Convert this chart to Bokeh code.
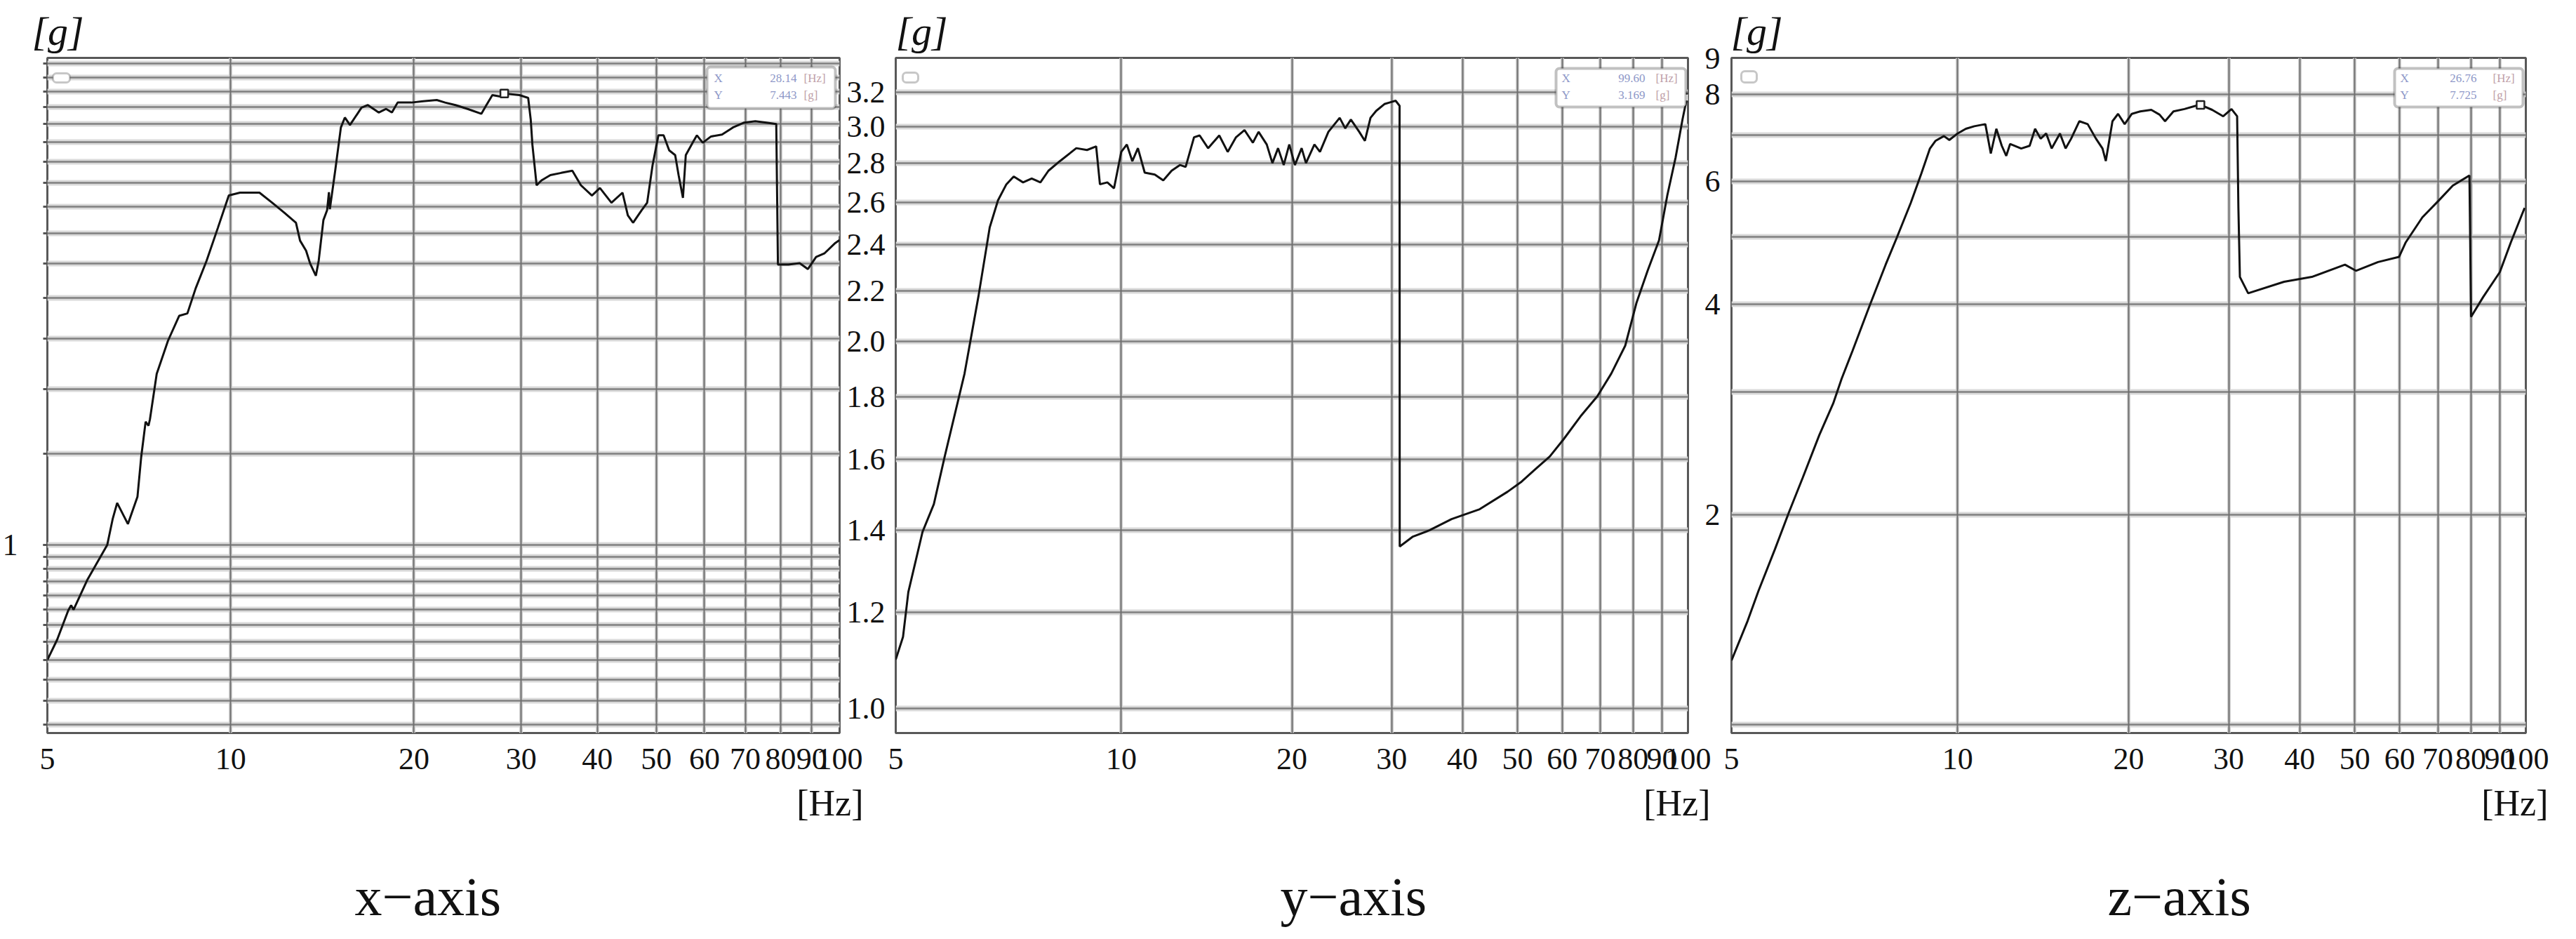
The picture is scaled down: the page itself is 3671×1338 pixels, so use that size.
from bokeh.plotting import figure
from bokeh.layouts import row
from bokeh.models import (FixedTicker, Range1d, LogAxis, LogScale, Grid, Label, Title,
                          BoxAnnotation, ColumnDataSource, PrintfTickFormatter)
from bokeh.embed import file_html
from bokeh.resources import INLINE

FONT = "Liberation Serif"
NB = "\u00a0"

# ---------------- data ----------------
x_freq_hz = [5.0, 5.19, 5.41, 5.47, 5.52, 5.82, 6.27, 6.40, 6.51, 6.78, 7.03, 7.13, 7.25, 7.33, 7.37,
             7.56, 7.89, 8.23, 8.49, 8.76, 9.13, 9.53, 9.93, 10.36, 10.8, 11.15, 11.7, 12.25, 12.8, 13.0,
             13.3, 13.5, 13.8, 13.95, 14.2, 14.4, 14.5, 14.55, 14.85, 15.17, 15.4, 15.7, 16.4, 16.8, 17.5,
             18.0, 18.4, 18.8, 19.8, 20.7, 21.8, 22.5, 23.4, 24.5, 25.8, 26.3, 26.9, 27.8, 28.14, 29.8,
             30.8, 31.1, 31.3, 31.8, 32.4, 33.5, 34.9, 36.4, 37.6, 39.2, 40.4, 42.2, 44.0, 44.9, 45.8,
             47.3, 48.3, 49.3, 50.4, 51.4, 52.5, 53.7, 54.4, 55.3, 55.9, 57.5, 58.3, 59.6, 61.5, 64.1,
             66.8, 69.7, 72.7, 75.8, 78.7, 79.2, 82.4, 86.0, 88.7, 91.5, 94.5, 98.4, 100.0]
x_accel_g = [0.60, 0.657, 0.747, 0.765, 0.75, 0.858, 1.0, 1.122, 1.206, 1.098, 1.24, 1.48, 1.73, 1.70, 1.75,
             2.14, 2.48, 2.77, 2.80, 3.13, 3.54, 4.10, 4.73, 4.79, 4.79, 4.79, 4.58, 4.38, 4.19, 3.87,
             3.70, 3.50, 3.31, 3.54, 4.24, 4.43, 4.80, 4.45, 5.29, 6.40, 6.69, 6.47, 6.99, 7.07, 6.84,
             6.95, 6.84, 7.15, 7.15, 7.19, 7.23, 7.15, 7.07, 6.95, 6.80, 7.07, 7.39, 7.34, 7.443, 7.39,
             7.30, 6.63, 5.92, 4.95, 5.06, 5.18, 5.23, 5.28, 4.95, 4.73, 4.89, 4.58, 4.79, 4.33, 4.19,
             4.43, 4.58, 5.41, 6.18, 6.18, 5.78, 5.66, 5.18, 4.68, 5.66, 6.01, 6.18, 5.98, 6.15, 6.20,
             6.40, 6.54, 6.58, 6.54, 6.50, 3.48, 3.48, 3.50, 3.41, 3.60, 3.66, 3.83, 3.88]

y_freq_hz = [4.0, 4.12, 4.21, 4.46, 4.67, 4.88, 5.29, 5.60, 5.86, 6.06, 6.27, 6.46, 6.71, 6.95, 7.2,
             7.44, 7.79, 8.33, 8.7, 9.03, 9.17, 9.45, 9.71, 10.0, 10.23, 10.46, 10.7, 11.0, 11.46, 11.86,
             12.27, 12.7, 12.99, 13.44, 13.75, 14.23, 14.89, 15.41, 15.94, 16.5, 17.07, 17.47, 18.06,
             18.48, 18.91, 19.35, 19.79, 20.25, 20.81, 21.18, 21.92, 22.42, 23.2, 24.29, 24.84, 25.42,
             26.3, 26.91, 27.53, 28.17, 29.13, 29.8, 30.49, 30.98, 31.0, 32.65, 34.97, 38.28, 42.9,
             48.06, 50.88, 53.86, 57.01, 60.35, 64.62, 69.18, 73.22, 77.5, 81.1, 84.9, 88.9, 91.95,
             95.1, 97.8, 99.6, 100.0]
y_accel_g = [1.097, 1.145, 1.246, 1.396, 1.471, 1.609, 1.882, 2.18, 2.48, 2.61, 2.69, 2.73, 2.70, 2.72, 2.70,
             2.76, 2.81, 2.88, 2.87, 2.89, 2.69, 2.70, 2.67, 2.86, 2.90, 2.81, 2.88, 2.75, 2.74, 2.71,
             2.76, 2.79, 2.78, 2.94, 2.95, 2.88, 2.95, 2.86, 2.94, 2.98, 2.91, 2.97, 2.90,
             2.80, 2.88, 2.79, 2.90, 2.79, 2.88, 2.80, 2.90, 2.86, 2.97, 3.05, 2.99, 3.04,
             2.97, 2.92, 3.05, 3.09, 3.13, 3.14, 3.15, 3.12, 1.358, 1.383, 1.40, 1.43, 1.457,
             1.506, 1.535, 1.572, 1.609, 1.663, 1.736, 1.803, 1.882, 1.984, 2.15, 2.286, 2.42, 2.635,
             2.83, 3.04, 3.169, 3.18]

z_freq_hz = [4.0, 4.27, 4.46, 4.77, 5.05, 5.34, 5.71, 6.04, 6.25, 6.53, 6.99, 7.47, 7.82, 8.27, 8.64,
             8.94, 9.14, 9.46, 9.67, 10.0, 10.34, 10.7, 11.19, 11.44, 11.7, 11.96, 12.18, 12.37, 12.94,
             13.39, 13.69, 14.0, 14.32, 14.64, 15.14, 15.49, 15.84, 16.38, 16.94, 17.52, 17.99, 18.23,
             18.73, 19.16, 19.68, 20.26, 20.96, 21.92, 22.67, 23.18, 23.98, 25.07, 26.51, 26.76, 28.05,
             29.34, 30.34, 31.04, 31.2, 31.39, 32.46, 37.54, 42.01, 48.05, 50.24, 54.95, 59.84, 61.48,
             65.75, 70.33, 74.37, 79.57, 80.1, 84.14, 90.0, 94.12, 99.5]
z_accel_g = [1.236, 1.408, 1.553, 1.784, 2.016, 2.26, 2.60, 2.885, 3.13, 3.43, 3.97, 4.56, 4.99, 5.59, 6.17,
             6.69, 6.86, 6.97, 6.88, 7.03, 7.14, 7.20, 7.25, 6.58, 7.14, 6.75, 6.53, 6.79, 6.69,
             6.75, 7.14, 6.91, 7.03, 6.69, 7.03, 6.69, 6.91, 7.32, 7.25, 6.91, 6.69, 6.42,
             7.32, 7.50, 7.25, 7.50, 7.56, 7.60, 7.48, 7.32, 7.56, 7.62, 7.72, 7.725, 7.60,
             7.44, 7.62, 7.44, 5.50, 4.38, 4.15, 4.31, 4.38, 4.56, 4.47, 4.60, 4.68, 4.91,
             5.33, 5.64, 5.92, 6.12, 3.84, 4.10, 4.45, 4.91, 5.50]

# cursor read-outs (X [Hz], Y [g])
x_cursor = (28.14, 7.443)
y_cursor = (99.60, 3.169)
z_cursor = (26.76, 7.725)
x_cursor_text = ("28.14", "7.443")
y_cursor_text = ("99.60", "3.169")
z_cursor_text = ("26.76", "7.725")

# axes
freq_grid = [10, 20, 30, 40, 50, 60, 70, 80, 90]
freq_labels = ["10", "20", "30", "40", "50", "60", "70", "80", "90"]
x_g_grid = [0.45, 0.5, 0.55, 0.6, 0.65, 0.7, 0.75, 0.8, 0.85, 0.9, 0.95, 1.0,
            1.5, 2.0, 2.5, 3.0, 3.5, 4.0, 4.5, 5.0, 5.5, 6.0, 6.5, 7.0, 7.5, 8.0, 8.5]
x_g_ticks = [1]
y_g_grid = [1.0, 1.2, 1.4, 1.6, 1.8, 2.0, 2.2, 2.4, 2.6, 2.8, 3.0, 3.2]
z_g_grid = [1, 2, 3, 4, 5, 6, 7, 8]
z_g_ticks = [2, 4, 6, 8, 9]
titles = ["x\u2212axis", "y\u2212axis", "z\u2212axis"]
unit_y = "[g]"
unit_x = "[Hz]"

# ---------------- layout ----------------
H = 1322
TOP = 82
FRAME_H = 962
BOTTOM = H - TOP - FRAME_H


def add_text(p, x, y, text, size, align="left", baseline="alphabetic", style="normal", color="#111111"):
    p.add_layout(Label(x=x, y=y, x_units="canvas", y_units="canvas", text=text,
                       text_font=FONT, text_font_size=f"{size}px", text_align=align,
                       text_baseline=baseline, text_font_style=style, text_color=color))


def make_panel(width, bl, br, xr, yr, ygrid, fstart_label_tick, g_offset, hz_offset, title,
               title_offset):
    p = figure(width=width, height=H, x_axis_type="log", y_axis_type="log",
               x_axis_location=None, y_axis_location=None,
               x_range=Range1d(*xr), y_range=Range1d(*yr),
               output_backend="svg", toolbar_location=None,
               min_border_left=bl, min_border_right=br, min_border_top=TOP, min_border_bottom=BOTTOM,
               background_fill_color="white", border_fill_color="white")
    # hide the automatic grids of the (unused) default axes
    for r in p.center:
        if isinstance(r, Grid):
            r.visible = False
    p.outline_line_color = "#585858"
    p.outline_line_width = 3
    p.add_layout(Grid(dimension=1, ticker=FixedTicker(ticks=ygrid),
                      grid_line_color="#d9d9d9", grid_line_width=8))
    p.add_layout(Grid(dimension=0, ticker=FixedTicker(ticks=freq_grid),
                      grid_line_color="#d2d2d2", grid_line_width=5))
    p.add_layout(Grid(dimension=1, ticker=FixedTicker(ticks=ygrid),
                      grid_line_color="#808080", grid_line_width=2.5))
    p.add_layout(Grid(dimension=0, ticker=FixedTicker(ticks=freq_grid),
                      grid_line_color="#6e6e6e", grid_line_width=2))

    ticks = [fstart_label_tick] + freq_grid + [100]
    overrides = {fstart_label_tick: "5", 100: "100"}
    for t, s in zip(freq_grid, freq_labels):
        overrides[t] = s
    xa = LogAxis(ticker=FixedTicker(ticks=ticks), major_label_overrides=overrides,
                 major_label_text_font=FONT, major_label_text_font_size="44px",
                 major_label_text_color="#111111", major_label_standoff=22,
                 major_tick_in=0, major_tick_out=0, minor_tick_in=0, minor_tick_out=0,
                 axis_line_color=None)
    p.add_layout(xa, "below")

    # unit of the vertical axis, above the frame
    p.title.text = unit_y
    p.title.align = "left"
    p.title.offset = g_offset
    p.title.text_font = FONT
    p.title.text_font_size = "58px"
    p.title.text_font_style = "italic"
    p.title.text_color = "#111111"
    p.title.standoff = 12

    # unit of the frequency axis (with an empty second line as spacer), then the caption
    p.add_layout(Title(text=unit_x + "\n" + NB, align="right", offset=hz_offset, text_font=FONT,
                       text_font_size="52px", text_font_style="normal", text_color="#111111",
                       vertical_align="top", text_line_height=0.7, standoff=34), "below")
    p.add_layout(Title(text=title, align="left", offset=title_offset, text_font=FONT,
                       text_font_size="78px", text_font_style="normal", text_color="#111111",
                       vertical_align="bottom", standoff=0), "below")
    return p


# panel 1 (x-axis)
p1 = make_panel(1264, 65, 68, (5, 100), (0.4335, 8.72), x_g_grid, 5, -22, -34, titles[0], 438)
ya1 = LogAxis(ticker=FixedTicker(ticks=x_g_ticks, minor_ticks=x_g_grid),
              formatter=PrintfTickFormatter(format="%d"),
              major_label_text_font=FONT, major_label_text_font_size="44px",
              major_label_text_color="#111111", major_label_standoff=36,
              major_tick_in=0, major_tick_out=6, minor_tick_in=0, minor_tick_out=6,
              major_tick_line_color="#555555", minor_tick_line_color="#555555",
              major_tick_line_width=3, minor_tick_line_width=3, axis_line_color=None)
p1.add_layout(ya1, "left")

# panel 2 (y-axis)
p2 = make_panel(1190, 12, 49, (4, 100), (0.955, 3.415), y_g_grid, 4, 0, -32, titles[1], 548)
# panel 2 value labels sit left of its frame, i.e. in the right border of panel 1
p1.extra_y_ranges = {"p2": Range1d(0.955, 3.415)}
p1.extra_y_scales = {"p2": LogScale()}
ra1 = LogAxis(y_range_name="p2", ticker=FixedTicker(ticks=y_g_grid),
              formatter=PrintfTickFormatter(format="%.1f"),
              major_label_text_font=FONT, major_label_text_font_size="44px",
              major_label_text_color="#111111", major_label_standoff=10,
              major_tick_in=0, major_tick_out=0, minor_tick_in=0, minor_tick_out=0,
              axis_line_color=None)
p1.add_layout(ra1, "right")

# panel 3 (z-axis)
p3 = make_panel(1201, 13, 56, (4, 100), (0.973, 9.02), z_g_grid, 4, -1, -32, titles[2], 536)
p2.extra_y_ranges = {"p3": Range1d(0.973, 9.02)}
p2.extra_y_scales = {"p3": LogScale()}
ra2 = LogAxis(y_range_name="p3", ticker=FixedTicker(ticks=z_g_ticks),
              formatter=PrintfTickFormatter(format="%d"),
              major_label_text_font=FONT, major_label_text_font_size="44px",
              major_label_text_color="#111111", major_label_standoff=24,
              major_tick_in=0, major_tick_out=0, minor_tick_in=0, minor_tick_out=0,
              axis_line_color=None)
p2.add_layout(ra2, "right")

panels = [
    (p1, x_freq_hz, x_accel_g, x_cursor),
    (p2, y_freq_hz, y_accel_g, y_cursor),
    (p3, z_freq_hz, z_accel_g, z_cursor),
]
for p, f, g, cur in panels:
    src = ColumnDataSource(data=dict(f=f, g=g))
    p.line("f", "g", source=src, line_color="#111111", line_width=3)
    p.scatter(x=[cur[0]], y=[cur[1]], marker="square", size=11, fill_color="white",
              line_color="#222222", line_width=2.5)

# ---- cursor read-out boxes ----
boxes = [(p1, 1007, 1190, 95, 154, 1017, 1135, 1145, x_cursor_text),
         (p2, 953, 1138, 97, 152, 961, 1080, 1095, y_cursor_text),
         (p3, 958, 1141, 97, 152, 966, 1075, 1098, z_cursor_text)]
for p, l, r, t, b, xl, xv, xu, txt in boxes:
    p.add_layout(BoxAnnotation(left=l, right=r, top=t, bottom=b,
                               left_units="canvas", right_units="canvas",
                               top_units="canvas", bottom_units="canvas",
                               fill_color="white", fill_alpha=1.0, line_color="#333333",
                               line_width=4, border_radius=5))
    for yy, name, val, unit in ((111, "X", txt[0], "[Hz]"), (135, "Y", txt[1], "[g]")):
        add_text(p, xl, yy, name, 17, baseline="middle", color="#8e98c8")
        add_text(p, xv, yy, val, 17, align="right", baseline="middle", color="#8e98c8")
        add_text(p, xu, yy, unit, 17, baseline="middle", color="#c0a0a8")

# small legend marks at top-left of every frame
for p, l, r, t, b in ((p1, 75, 99, 104, 117), (p2, 22, 44, 103, 117), (p3, 27, 49, 101, 117)):
    p.add_layout(BoxAnnotation(left=l, right=r, top=t, bottom=b,
                               left_units="canvas", right_units="canvas",
                               top_units="canvas", bottom_units="canvas",
                               fill_color="white", fill_alpha=1.0, line_color="#444444",
                               line_width=3, border_radius=5))

layout = row(p1, p2, p3, spacing=0)
open("out.html", "w").write(file_html(layout, INLINE))
